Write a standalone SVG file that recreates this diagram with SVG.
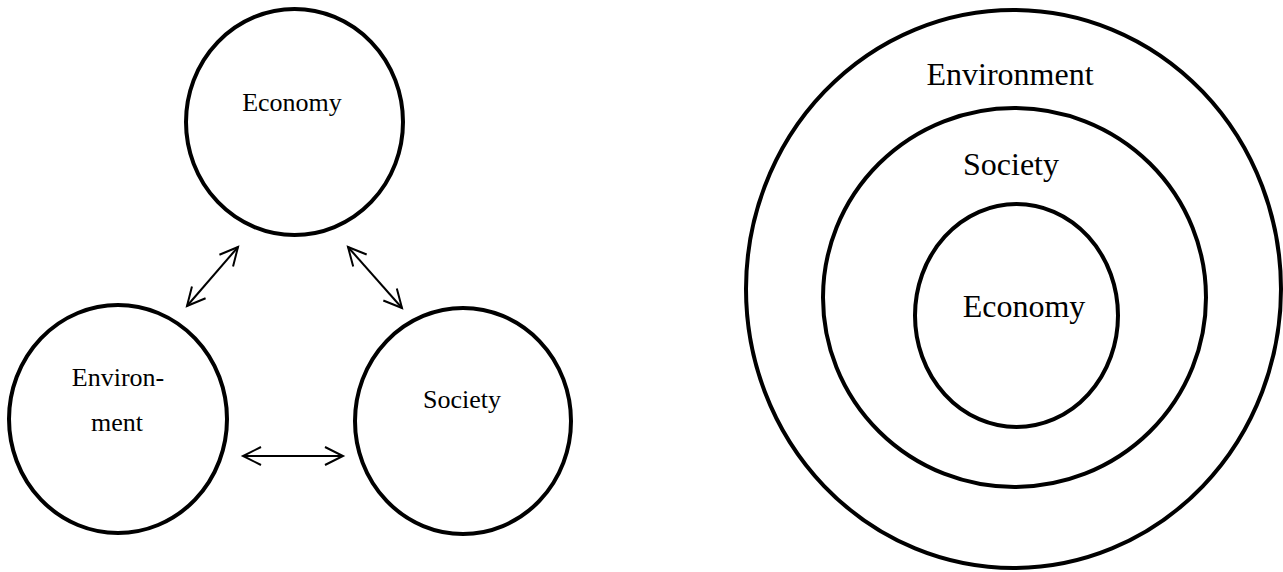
<svg xmlns="http://www.w3.org/2000/svg" width="1283" height="572" viewBox="0 0 1283 572">
<defs>
<style>
.node{fill:none;stroke:#000;stroke-width:4}
.lbl{font-family:"Liberation Serif","Times New Roman",serif;fill:#000;text-anchor:middle}
.s{font-size:26px}
.b{font-size:32px}
.conn{fill:none;stroke:#000;stroke-width:2}
</style>
<marker id="ah" markerUnits="userSpaceOnUse" markerWidth="24" markerHeight="24" viewBox="-20 -12 24 24" refX="0" refY="0" orient="auto-start-reverse">
<path d="M-18,-9 L0,0 L-18,9" fill="none" stroke="#000" stroke-width="2"/>
</marker>
</defs>
<rect width="1283" height="572" fill="#fff"/>
<g id="left-economy">
<ellipse class="node" cx="294.5" cy="122" rx="108.5" ry="113"/>
<text class="lbl s" x="292" y="111">Economy</text>
</g>
<g id="left-environment">
<ellipse class="node" cx="118" cy="419" rx="109" ry="114"/>
<text class="lbl s" x="118" y="386">Environ-</text>
<text class="lbl s" x="117" y="431">ment</text>
</g>
<g id="left-society">
<ellipse class="node" cx="463" cy="421" rx="108" ry="113"/>
<text class="lbl s" x="462" y="408">Society</text>
</g>
<g id="connectors">
<line class="conn" x1="238" y1="247" x2="187" y2="306" marker-start="url(#ah)" marker-end="url(#ah)"/>
<line class="conn" x1="348" y1="247" x2="402" y2="308" marker-start="url(#ah)" marker-end="url(#ah)"/>
<line class="conn" x1="243" y1="456" x2="343" y2="456" marker-start="url(#ah)" marker-end="url(#ah)"/>
</g>
<g id="outer-environment">
<ellipse class="node" cx="1013.5" cy="289" rx="267.5" ry="279"/>
<text class="lbl b" x="1010" y="85">Environment</text>
</g>
<g id="middle-society">
<ellipse class="node" cx="1014.5" cy="297.5" rx="191.5" ry="189.5"/>
<text class="lbl b" x="1011" y="175">Society</text>
</g>
<g id="inner-economy">
<ellipse class="node" cx="1016.5" cy="315.5" rx="101.5" ry="111.5"/>
<text class="lbl b" x="1024" y="317">Economy</text>
</g>
</svg>
